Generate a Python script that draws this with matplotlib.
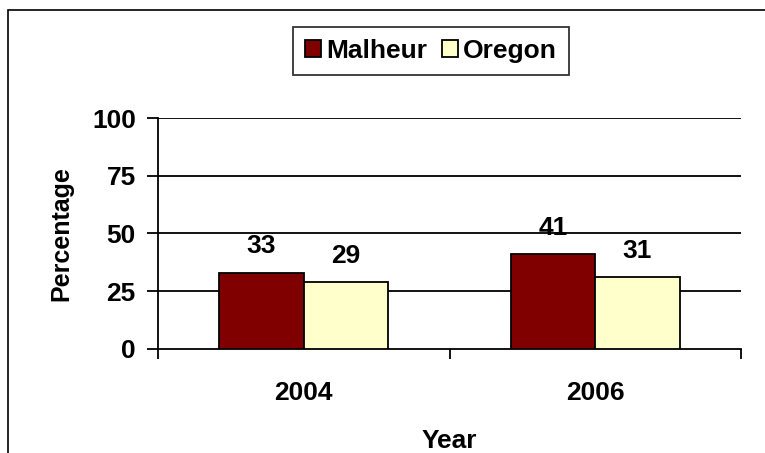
import matplotlib.pyplot as plt
import matplotlib.patches as mpatches
import numpy as np

years = ['2004', '2006']
malheur = [33, 41]
oregon = [29, 31]

plt.rcParams['font.family'] = ['Liberation Sans', 'DejaVu Sans']
plt.rcParams['font.weight'] = 'bold'

fig = plt.figure(figsize=(7.65, 4.53), dpi=100)
ax = fig.add_axes([158 / 765, 1 - 349 / 453, (741 - 158) / 765, (349 - 118) / 453])

# outer chart frame (cut off at right and bottom like the original)
fig.add_artist(mpatches.Rectangle((8 / 765, -0.1), 1.2, 1.1 - 10 / 453,
                                  transform=fig.transFigure, fill=False,
                                  edgecolor='black', lw=1.2, clip_on=False))

x = np.arange(len(years))
w = 0.29
off = 0.145
b1 = ax.bar(x - off, malheur, w, color='#800000', edgecolor='black', lw=1.3,
            label='Malheur', zorder=3)
b2 = ax.bar(x + off, oregon, w, color='#FFFFCC', edgecolor='black', lw=1.3,
            label='Oregon', zorder=3)

for bars, vals in [(b1, malheur), (b2, oregon)]:
    for r, v in zip(bars, vals):
        ax.annotate(str(v), (r.get_x() + r.get_width() / 2, v),
                    xytext=(0, 19), textcoords='offset points',
                    ha='center', va='center', fontsize=19, fontweight='bold')

ax.set_ylim(0, 100)
ax.set_xlim(-0.5, 1.5)
ax.set_yticks([0, 25, 50, 75, 100])
for y in [25, 50, 75, 100]:
    ax.axhline(y, color='black', lw=1.3, zorder=1)

ax.set_xticks(x)
ax.set_xticklabels(years)
ax.set_xticks([-0.5, 0.5, 1.5], minor=True)
ax.tick_params(axis='x', which='major', length=0, pad=23, labelsize=19)
ax.tick_params(axis='x', which='minor', length=7, width=1.3, direction='out')
ax.tick_params(axis='y', length=8, width=1.3, direction='out', pad=8, labelsize=19)

for s in ['top', 'right']:
    ax.spines[s].set_visible(False)
for s in ['left', 'bottom']:
    ax.spines[s].set_linewidth(1.3)

ax.set_xlabel('Year', fontsize=19, fontweight='bold', labelpad=17)
ax.set_ylabel('Percentage', fontsize=18, fontweight='bold', labelpad=13)

fig.legend(handles=[b1, b2], labels=['Malheur', 'Oregon'], loc='center',
           bbox_to_anchor=(431 / 765, 1 - 51 / 453), ncol=2, fontsize=19,
           frameon=True, fancybox=False, edgecolor='black', handlelength=0.6,
           handleheight=0.6, handletextpad=0.2, columnspacing=0.55,
           borderpad=0.45, borderaxespad=0)
fig.legends[0].get_frame().set_linewidth(1.3)

fig.savefig('out.png', dpi=100)
